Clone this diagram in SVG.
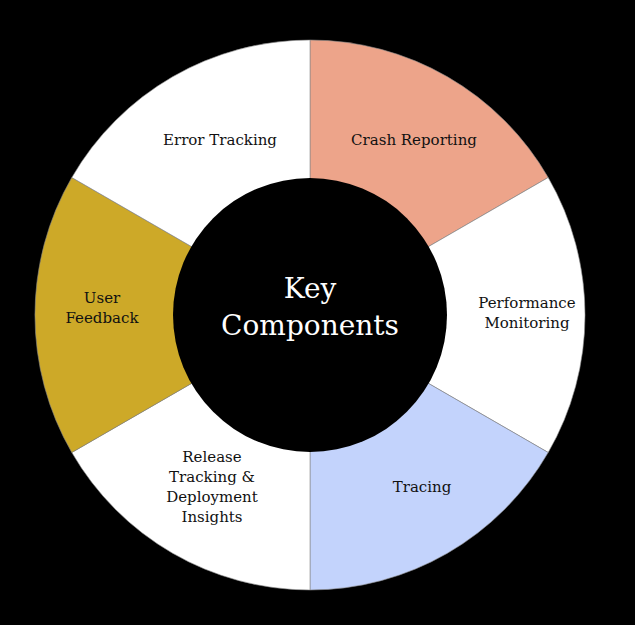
<svg xmlns="http://www.w3.org/2000/svg" width="635" height="625" viewBox="0 0 635 625">
<style>
.s{stroke:#888;stroke-width:0.6}
.t{font-family:"DejaVu Serif","Liberation Serif",serif;font-size:15px;fill:#111;text-anchor:middle}
.c{font-family:"DejaVu Serif","Liberation Serif",serif;font-size:28px;fill:#fff;text-anchor:middle}
</style>
<rect width="635" height="625" fill="#000"/>
<g id="crash"><path class="s" fill="#EDA48A" d="M310,315 L310,40 A275,275 0 0 1 548.2,177.5 Z"/><text class="t" x="414" y="145">Crash Reporting</text></g>
<g id="performance"><path class="s" fill="#fff" d="M310,315 L548.2,177.5 A275,275 0 0 1 548.2,452.5 Z"/><text class="t" x="527" y="308">Performance</text><text class="t" x="527" y="328">Monitoring</text></g>
<g id="tracing"><path class="s" fill="#C3D3FC" d="M310,315 L548.2,452.5 A275,275 0 0 1 310,590 Z"/><text class="t" x="422" y="492">Tracing</text></g>
<g id="release"><path class="s" fill="#fff" d="M310,315 L310,590 A275,275 0 0 1 71.8,452.5 Z"/><text class="t" x="212" y="462">Release</text><text class="t" x="212" y="482">Tracking &amp;</text><text class="t" x="212" y="502">Deployment</text><text class="t" x="212" y="522">Insights</text></g>
<g id="feedback"><path class="s" fill="#CDA928" d="M310,315 L71.8,452.5 A275,275 0 0 1 71.8,177.5 Z"/><text class="t" x="102" y="303">User</text><text class="t" x="102" y="323">Feedback</text></g>
<g id="error"><path class="s" fill="#fff" d="M310,315 L71.8,177.5 A275,275 0 0 1 310,40 Z"/><text class="t" x="220" y="145">Error Tracking</text></g>
<g id="center"><circle cx="310" cy="315" r="137" fill="#000"/><text class="c" x="310" y="298">Key</text><text class="c" x="310" y="335">Components</text></g>
<g id="connectors"></g>
</svg>
